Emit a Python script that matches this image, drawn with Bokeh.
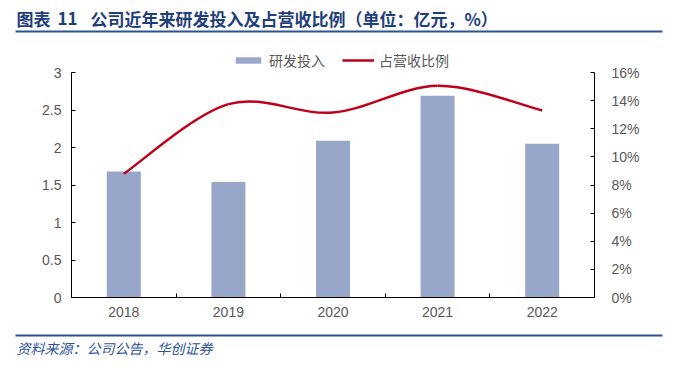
from bokeh.plotting import figure
from bokeh.models import (Range1d, LinearAxis, FixedTicker, CustomJSTickFormatter,
                          PrintfTickFormatter, Legend, LegendItem, Label, BoxAnnotation,
                          ColumnDataSource)
from bokeh.embed import file_html
from bokeh.resources import INLINE

# ---- data ----
years = ["2018", "2019", "2020", "2021", "2022"]
rd_invest = [1.68, 1.54, 2.09, 2.69, 2.05]        # 亿元
rd_ratio = [8.8, 13.75, 13.15, 15.05, 13.3]       # %
left_ticks = [0, 0.5, 1, 1.5, 2, 2.5, 3]
right_ticks = [0, 2, 4, 6, 8, 10, 12, 14, 16]

title_a = "图表"
title_b = "11"
title_c = "公司近年来研发投入及占营收比例（单位：亿元，%）"
source_txt = "资料来源：公司公告，华创证券"
legend_labels = ["研发投入", "占营收比例"]

BAR = "#98A7C9"
LINE = "#C00018"
NAVY = "#1F3E7C"
RULE = "#2A5592"
GRAY = "#595959"
CJK = "Noto Sans CJK SC"
LAT = "Liberation Sans"

W, H = 676, 368
# plot-area placement in pixels (canvas coords, y from top)
PL, PR, PT, PB = 71, 594, 72, 297
n = len(years)
y_max, pct_max = left_ticks[-1], right_ticks[-1]

xk = (PR - PL) / n
yk = (PB - PT) / y_max
pk = (PB - PT) / pct_max
x_range = Range1d(-PL / xk, n + (W - PR) / xk)
y_range = Range1d(-(H - PB) / yk, y_max + PT / yk)
pct_range = Range1d(-(H - PB) / pk, pct_max + PT / pk)

p = figure(width=W, height=H, output_backend="svg", toolbar_location=None,
           x_range=x_range, y_range=y_range,
           min_border=0, min_border_left=0, min_border_right=0,
           min_border_top=0, min_border_bottom=0)
p.extra_y_ranges = {"pct": pct_range}
p.outline_line_color = None
p.xgrid.visible = False
p.ygrid.visible = False
p.xaxis.visible = False
p.yaxis.visible = False

xs = [i + 0.5 for i in range(n)]
src = ColumnDataSource(dict(x=xs, v=rd_invest))
bars = p.vbar(x="x", top="v", width=0.325, source=src, fill_color=BAR, line_color=None)

# smooth line: bezier segments with Catmull-Rom style control points from the data
pts = list(zip(xs, rd_ratio))
t = 1.0 / 6.0
seg = dict(x0=[], y0=[], x1=[], y1=[], cx0=[], cy0=[], cx1=[], cy1=[])
for i in range(n - 1):
    pm = pts[max(i - 1, 0)]
    p0 = pts[i]
    p1 = pts[i + 1]
    p2 = pts[min(i + 2, n - 1)]
    seg["x0"].append(p0[0]); seg["y0"].append(p0[1])
    seg["x1"].append(p1[0]); seg["y1"].append(p1[1])
    seg["cx0"].append(p0[0] + (p1[0] - pm[0]) * t)
    seg["cy0"].append(p0[1] + (p1[1] - pm[1]) * t)
    seg["cx1"].append(p1[0] - (p2[0] - p0[0]) * t)
    seg["cy1"].append(p1[1] - (p2[1] - p0[1]) * t)
curve = p.bezier(x0="x0", y0="y0", x1="x1", y1="y1", cx0="cx0", cy0="cy0", cx1="cx1", cy1="cy1",
                 source=ColumnDataSource(seg), y_range_name="pct", line_color=LINE, line_width=2.5)

xa = LinearAxis(ticker=FixedTicker(ticks=xs, minor_ticks=list(range(n + 1))),
                formatter=CustomJSTickFormatter(args=dict(labels=years),
                                                code="return labels[Math.floor(tick)];"),
                fixed_location=0, bounds=(0, n))
xa.major_tick_line_color = None
xa.minor_tick_in = 4
xa.minor_tick_out = 0
xa.minor_tick_line_color = "black"
xa.axis_line_color = "black"
xa.major_label_standoff = 3
xa.major_label_text_font = LAT
xa.major_label_text_font_size = "14px"
xa.major_label_text_color = GRAY
p.add_layout(xa, "below")

ya = LinearAxis(ticker=FixedTicker(ticks=left_ticks),
                formatter=CustomJSTickFormatter(code="return tick.toString();"),
                fixed_location=0, bounds=(0, y_max))
ya.major_tick_in = 4
ya.major_tick_out = 0
ya.minor_tick_line_color = None
ya.axis_line_color = "black"
ya.major_tick_line_color = "black"
ya.major_label_standoff = 10
ya.major_label_text_font = LAT
ya.major_label_text_font_size = "14px"
ya.major_label_text_color = GRAY
p.add_layout(ya, "left")

yb = LinearAxis(y_range_name="pct", ticker=FixedTicker(ticks=right_ticks),
                formatter=PrintfTickFormatter(format="%d%%"),
                fixed_location=n, bounds=(0, pct_max))
yb.major_tick_in = 4
yb.major_tick_out = 0
yb.minor_tick_line_color = None
yb.axis_line_color = "black"
yb.major_tick_line_color = "black"
yb.major_label_standoff = 17
yb.major_label_text_font = LAT
yb.major_label_text_font_size = "14px"
yb.major_label_text_color = GRAY
p.add_layout(yb, "right")

legend = Legend(items=[LegendItem(label=legend_labels[0], renderers=[bars]),
                       LegendItem(label=legend_labels[1], renderers=[curve])],
                orientation="horizontal", location=(232, H - 70),
                glyph_width=32, glyph_height=8, label_standoff=5, spacing=17,
                padding=0, margin=0, border_line_color=None, background_fill_alpha=0,
                label_text_font=CJK, label_text_font_size="14px", label_text_color=GRAY,
                label_height=16)
p.add_layout(legend, "center")


def sy(cy):
    return H - cy


for txt, x in [(title_a, 16), (title_b, 57), (title_c, 90)]:
    p.add_layout(Label(x=x, y=sy(17.5), x_units="screen", y_units="screen", text=txt,
                       text_font=CJK, text_font_size="17px", text_font_style="bold",
                       text_color=NAVY, text_baseline="middle", text_align="left"))

for top_px in (30, 334):
    p.add_layout(BoxAnnotation(left=15, right=662, top=sy(top_px), bottom=sy(top_px + 2),
                               left_units="screen", right_units="screen",
                               top_units="screen", bottom_units="screen",
                               fill_color=RULE, fill_alpha=1, line_color=None))

p.add_layout(Label(x=16, y=sy(347), x_units="screen", y_units="screen", text=source_txt,
                   text_font=CJK, text_font_size="14px", text_font_style="italic",
                   text_color="#2F5597", text_baseline="middle", text_align="left"))

open("out.html", "w").write(file_html(p, INLINE))
